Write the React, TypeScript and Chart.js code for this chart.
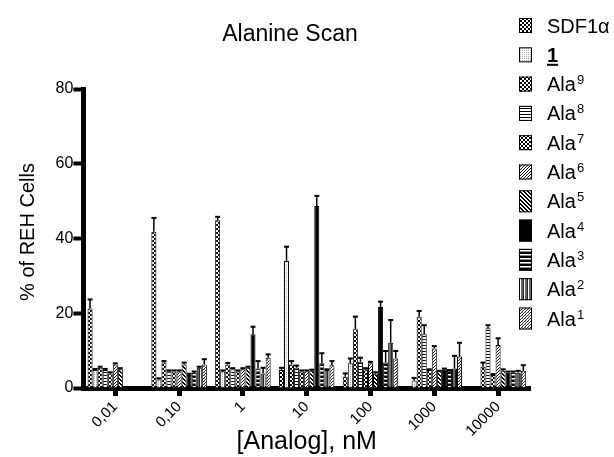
import React, { useEffect, useRef } from "react";
import { Chart, registerables } from "chart.js";

Chart.register(...registerables);

// ---------- DATA ----------
const categories = ["0,01", "0,10", "1", "10", "100", "1000", "10000"];
const yTicks = [0, 20, 40, 60, 80];

const seriesBase = ["SDF1α", "1", "Ala", "Ala", "Ala", "Ala", "Ala", "Ala", "Ala", "Ala", "Ala"];
const seriesSup = ["", "", "9", "8", "7", "6", "5", "4", "3", "2", "1"];

const sdf1a = [21.3, 41.8, 44.9, 4.8, 3.0, null, null];
const cmpd1 = [4.8, 2.3, 4.4, 34.0, 6.6, 2.0, null];
const ala9 = [5.4, 6.8, 6.3, 6.3, 15.7, 19.1, 5.7];
const ala8 = [4.8, 4.4, 5.0, 5.4, 7.0, 14.4, 16.0];
const ala7 = [3.9, 4.4, 4.4, 4.4, 5.0, 4.8, 3.5];
const ala6 = [6.3, 4.4, 5.0, 4.4, 6.6, 10.6, 11.5];
const ala5 = [5.0, 6.3, 5.4, 4.6, 3.9, 4.4, 4.6];
const ala4 = [null, 3.5, 14.4, 48.7, 21.7, 5.0, 4.1];
const ala3 = [null, 4.1, 5.2, 6.6, 6.8, 4.6, 4.1];
const ala2 = [null, 5.4, 3.9, 4.8, 12.1, 5.2, 4.1];
const ala1 = [null, 6.3, 8.1, 6.1, 7.9, 8.4, 4.6];

const sdf1aErr = [2.4, 3.7, 0.9, 0.6, 0.9, null, null];
const cmpd1Err = [0.3, 0.3, 0.3, 3.8, 1.3, 0.7, null];
const ala9Err = [0.3, 0.4, 0.4, 0.9, 3.4, 1.5, 1.1];
const ala8Err = [0.3, 0.3, 0.3, 0.6, 1.1, 2.4, 0.8];
const ala7Err = [0.3, 0.3, 0.3, 0.3, 0.3, 0.2, 0.2];
const ala6Err = [0.3, 0.3, 0.3, 0.3, 0.4, 0.6, 1.8];
const ala5Err = [0.3, 0.5, 0.3, 0.3, 0.3, 0.2, 0.4];
const ala4Err = [null, 0.3, 2.0, 2.7, 1.4, 0.2, 0.3];
const ala3Err = [null, 0.3, 2.0, 2.7, 3.1, 0.2, 0.3];
const ala2Err = [null, 0.3, 1.5, 0.2, 6.1, 3.4, 0.5];
const ala1Err = [null, 1.4, 0.9, 1.1, 2.0, 3.7, 1.5];

const seriesValues = [sdf1a, cmpd1, ala9, ala8, ala7, ala6, ala5, ala4, ala3, ala2, ala1];
const seriesErrors = [sdf1aErr, cmpd1Err, ala9Err, ala8Err, ala7Err, ala6Err, ala5Err, ala4Err, ala3Err, ala2Err, ala1Err];

// ---------- STYLE ----------
const FONT = '"Liberation Sans", Arial, Helvetica, sans-serif';
const patternKinds = ["checkerA", "dots", "checkerB", "hlines", "cross", "diagF", "diagB", "solid", "hstripes", "vstripes", "diagF2"];

function makeTile(kind: string): HTMLCanvasElement {
  const c = document.createElement("canvas");
  let n = 4;
  if (kind === "hlines" || kind === "diagF" || kind === "diagF2") n = 3;
  if (kind === "dots") n = 2;
  c.width = n;
  c.height = n;
  const g = c.getContext("2d") as CanvasRenderingContext2D;
  g.fillStyle = "#fff";
  g.fillRect(0, 0, n, n);
  const px = (x: number, y: number, col: string) => {
    g.fillStyle = col;
    g.fillRect(x, y, 1, 1);
  };
  switch (kind) {
    case "checkerA":
      g.fillStyle = "#000";
      g.fillRect(0, 0, 2, 2);
      g.fillRect(2, 2, 2, 2);
      break;
    case "checkerB":
      g.fillStyle = "#000";
      g.fillRect(2, 0, 2, 2);
      g.fillRect(0, 2, 2, 2);
      break;
    case "dots":
      px(0, 0, "#aaa");
      break;
    case "hlines":
      g.fillStyle = "#000";
      g.fillRect(0, 0, n, 1);
      break;
    case "cross":
      for (let i = 0; i < 4; i++) {
        px(i, i, "#000");
        px(i, 3 - i, "#000");
      }
      break;
    case "diagF":
      for (let i = 0; i < 3; i++) px(i, 2 - i, "#111");
      break;
    case "diagB":
      for (let i = 0; i < 4; i++) {
        px(i, i, "#000");
        px((i + 1) % 4, i, "#000");
      }
      break;
    case "solid":
      g.fillStyle = "#000";
      g.fillRect(0, 0, n, n);
      break;
    case "hstripes":
      g.fillStyle = "#000";
      g.fillRect(0, 0, n, 2);
      g.fillStyle = "#888";
      g.fillRect(0, 3, n, 1);
      break;
    case "vstripes":
      g.fillStyle = "#666";
      g.fillRect(1, 0, 2, n);
      g.fillStyle = "#222";
      g.fillRect(3, 0, 1, n);
      break;
    case "diagF2":
      for (let i = 0; i < 3; i++) px(i, 2 - i, "#333");
      px(0, 0, "#999");
      break;
  }
  return c;
}

const errorBarPlugin = {
  id: "errorBars",
  afterDatasetsDraw(chart: any) {
    const ctx = chart.ctx as CanvasRenderingContext2D;
    const yScale = chart.scales.y;
    ctx.save();
    ctx.strokeStyle = "#000";
    chart.data.datasets.forEach((ds: any, i: number) => {
      const meta = chart.getDatasetMeta(i);
      const errs = seriesErrors[i];
      meta.data.forEach((bar: any, j: number) => {
        const v = ds.data[j];
        const e = errs[j];
        if (v == null || e == null) return;
        const x = bar.x;
        const y0 = bar.y;
        const y1 = yScale.getPixelForValue(v + e);
        ctx.lineWidth = 1.5;
        ctx.beginPath();
        ctx.moveTo(x, y0);
        ctx.lineTo(x, y1);
        ctx.stroke();
        ctx.lineWidth = 2;
        ctx.beginPath();
        ctx.moveTo(x - 2.5, y1);
        ctx.lineTo(x + 2.5, y1);
        ctx.stroke();
      });
    });
    ctx.restore();
  },
};

const textPlugin = {
  id: "texts",
  afterDraw(chart: any) {
    const ctx = chart.ctx as CanvasRenderingContext2D;
    const area = chart.chartArea;
    ctx.save();
    ctx.fillStyle = "#000";
    // Title
    ctx.font = `23px ${FONT}`;
    ctx.textAlign = "center";
    ctx.textBaseline = "alphabetic";
    ctx.fillText("Alanine Scan", 290, 41);
    // X title
    ctx.font = `25px ${FONT}`;
    ctx.fillText("[Analog], nM", (area.left + area.right) / 2, 449);
    // Y title
    ctx.save();
    ctx.translate(28, 232);
    ctx.rotate(-Math.PI / 2);
    ctx.font = `20px ${FONT}`;
    ctx.textBaseline = "middle";
    ctx.fillText("% of REH Cells", 0, 0);
    ctx.restore();

    // Legend
    ctx.textAlign = "left";
    ctx.textBaseline = "alphabetic";
    chart.data.datasets.forEach((ds: any, i: number) => {
      const cy = 25.5 + 29.3 * i;
      const h = i < 6 ? 15 : 22;
      const bx = 519;
      const bw = 13;
      ctx.fillStyle = ds.backgroundColor;
      ctx.fillRect(bx, cy - h / 2, bw, h);
      ctx.strokeStyle = "#000";
      ctx.lineWidth = 1;
      ctx.strokeRect(bx + 0.5, cy - h / 2 + 0.5, bw - 1, h - 1);
      ctx.fillStyle = "#000";
      const base = seriesBase[i];
      const sup = seriesSup[i];
      const tx = 547;
      const baseline = cy + 7;
      if (base === "1") {
        ctx.font = `bold 20px ${FONT}`;
        ctx.fillText(base, tx, baseline);
        const w = ctx.measureText(base).width;
        ctx.fillRect(tx, baseline + 2, w, 2);
      } else {
        ctx.font = `20px ${FONT}`;
        ctx.fillText(base, tx, baseline);
        if (sup) {
          const w = ctx.measureText(base).width;
          ctx.font = `13px ${FONT}`;
          ctx.fillText(sup, tx + w + 1, baseline - 7);
        }
      }
    });
    ctx.restore();
  },
};

export default function App() {
  const ref = useRef<HTMLCanvasElement | null>(null);
  useEffect(() => {
    if (!ref.current) return;
    const patterns = patternKinds.map((k) => {
      const tile = makeTile(k);
      const ctx = ref.current!.getContext("2d") as CanvasRenderingContext2D;
      return ctx.createPattern(tile, "repeat") as CanvasPattern;
    });
    Chart.defaults.font.family = FONT;
    Chart.defaults.color = "#000";
    const chart = new Chart(ref.current, {
      type: "bar",
      data: {
        labels: categories,
        datasets: seriesValues.map((vals, i) => ({
          label: seriesBase[i] + seriesSup[i],
          data: vals as any,
          backgroundColor: patterns[i] as any,
          borderColor: "#000",
          borderWidth: 1,
          borderSkipped: "start" as any,
          categoryPercentage: 0.87,
          barPercentage: 1.0,
        })),
      },
      options: {
        responsive: false,
        animation: false,
        devicePixelRatio: 1,
        layout: { padding: { top: 89, right: 84, left: 0, bottom: 0 } },
        plugins: {
          legend: { display: false },
          title: { display: false },
          tooltip: { enabled: false },
        },
        scales: {
          x: {
            type: "category",
            grid: {
              display: true,
              drawOnChartArea: false,
              drawTicks: true,
              tickLength: 8,
              tickWidth: 5,
              color: "#000",
              tickColor: "#000",
              offset: false,
            },
            border: { display: true, width: 5, color: "#000" },
            ticks: {
              autoSkip: false,
              minRotation: 45,
              maxRotation: 45,
              padding: 2,
              color: "#000",
              font: { size: 15, family: FONT },
            },
            afterFit(scale: any) {
              scale.height = 69;
            },
          },
          y: {
            min: 0,
            max: 80,
            afterBuildTicks(scale: any) {
              scale.ticks = yTicks.map((v) => ({ value: v }));
            },
            grid: {
              display: true,
              drawOnChartArea: false,
              drawTicks: true,
              tickLength: 10,
              tickWidth: 4,
              color: "#000",
              tickColor: "#000",
            },
            border: { display: true, width: 5, color: "#000" },
            ticks: {
              padding: 0,
              color: "#000",
              font: { size: 16, family: FONT },
            },
            afterFit(scale: any) {
              scale.width = 83.4;
            },
          },
        },
      },
      plugins: [errorBarPlugin, textPlugin],
    });
    return () => chart.destroy();
  }, []);
  return (
    <div style={{ position: "fixed", left: 0, top: 0, width: 614, height: 457, background: "#fff" }}>
      <canvas ref={ref} width={614} height={457} style={{ display: "block", width: 614, height: 457 }} />
    </div>
  );
}
